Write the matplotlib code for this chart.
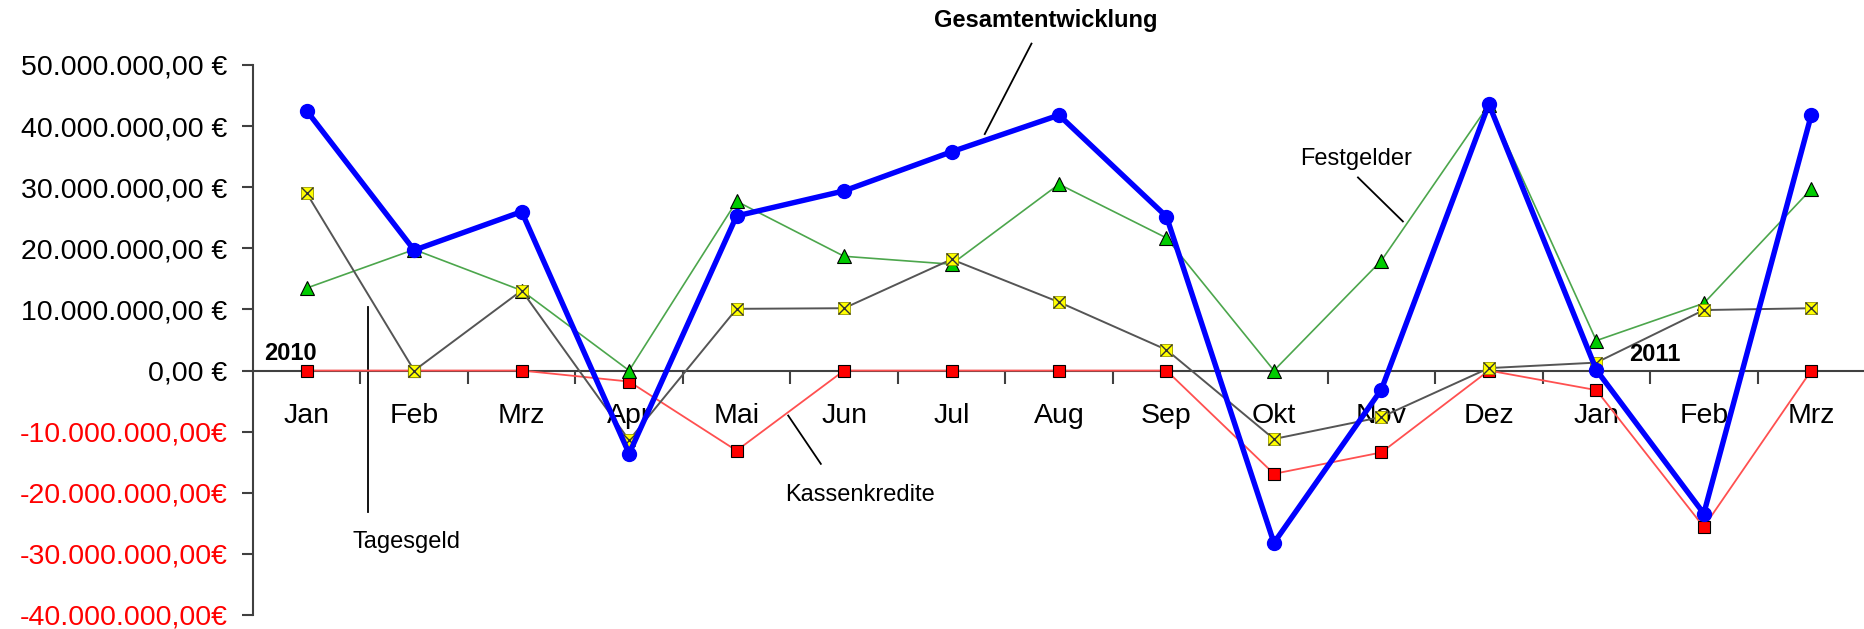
import matplotlib
matplotlib.use("Agg")
import matplotlib.pyplot as plt
import numpy as np
from matplotlib.ticker import FixedLocator, FuncFormatter

plt.rcParams["font.family"] = ["Liberation Sans", "DejaVu Sans"]

# --- data (values in euro) ---
months = ["Jan", "Feb", "Mrz", "Apr", "Mai", "Jun", "Jul", "Aug", "Sep",
          "Okt", "Nov", "Dez", "Jan", "Feb", "Mrz"]
gesamt = [42.5, 19.7, 26.0, -13.6, 25.3, 29.4, 35.8, 41.8, 25.2,
          -28.2, -3.1, 43.6, 0.1, -23.4, 41.8]
festgelder = [13.5, 19.8, 13.1, 0.0, 27.7, 18.7, 17.4, 30.5, 21.7,
              0.0, 18.0, 43.5, 4.9, 11.0, 29.7]
tagesgeld = [29.0, 0.0, 13.1, -11.4, 10.1, 10.2, 18.2, 11.2, 3.4,
             -11.2, -7.6, 0.4, 1.3, 9.9, 10.2]
kassenkredite = [0.0, 0.0, 0.0, -1.8, -13.1, 0.0, 0.0, 0.0, 0.0,
                 -16.9, -13.4, 0.0, -3.2, -25.6, 0.0]

MIO = 1e6
x = np.arange(len(months))

fig = plt.figure(figsize=(18.65, 6.29), dpi=100)
ax = fig.add_axes([253 / 1865, 14 / 629, 1612 / 1865, 550 / 629])

ax.plot(x, np.array(kassenkredite) * MIO, color="#FF5050", lw=1.3,
        marker="s", ms=8.5, mfc="#FF0000", mec="black", mew=0.8, zorder=3)
ax.plot(x, np.array(festgelder) * MIO, color="#4CA64C", lw=1.2,
        marker="^", ms=10, mfc="#00CC00", mec="black", mew=0.8, zorder=4)
ax.plot(x, np.array(tagesgeld) * MIO, color="#555555", lw=1.4,
        marker="s", ms=9, mfc="#FFFF00", mec="#999900", mew=0.6, zorder=5)
ax.plot(x, np.array(tagesgeld) * MIO, ls="none", marker="x", ms=8,
        mec="#333333", mew=1.0, zorder=5)
ax.plot(x, np.array(gesamt) * MIO, color="#0000FF", lw=3.9,
        marker="o", ms=10, mfc="#0000FF", mec="#0000FF", zorder=6)

# --- axes ---
ax.set_xlim(-0.5, len(months) - 0.5)
ax.set_ylim(-40 * MIO, 50 * MIO)
ax.spines["top"].set_visible(False)
ax.spines["right"].set_visible(False)
ax.spines["bottom"].set_position(("data", 0))
for s in ("left", "bottom"):
    ax.spines[s].set_color("#404040")
    ax.spines[s].set_linewidth(1.5)

ax.set_yticks(np.arange(-40, 51, 10) * MIO)


def euro(v, pos):
    s = f"{abs(v):,.2f}".replace(",", "X").replace(".", ",").replace("X", ".")
    return f"{s} €" if v >= 0 else f"-{s}€"


ax.yaxis.set_major_formatter(FuncFormatter(euro))
ax.tick_params(axis="y", direction="out", length=8, width=1.5,
               color="#404040", labelsize=20.5, pad=10.5)
for lab, v in zip(ax.get_yticklabels(), ax.get_yticks()):
    lab.set_color("#FF0000" if v < 0 else "black")

ax.xaxis.set_major_locator(FixedLocator(np.arange(0.5, len(months) - 1, 1.0)))
ax.xaxis.set_major_formatter(FuncFormatter(lambda v, p: ""))
ax.xaxis.set_minor_locator(FixedLocator(x))
ax.set_xticklabels(months, minor=True)
ax.tick_params(axis="x", which="major", direction="out", length=9,
               width=1.5, color="#404040")
ax.tick_params(axis="x", which="minor", length=0, labelsize=20.5, pad=23.5)

# --- annotations ---
ax.text(6.877, 57.3 * MIO, "Gesamtentwicklung", fontsize=17,
        fontweight="bold", ha="center", va="center", clip_on=False)
ax.plot([6.744, 6.309], [53.5 * MIO, 38.7 * MIO], color="black", lw=1.3,
        clip_on=False)

ax.text(9.76, 34.7 * MIO, "Festgelder", fontsize=17, ha="center",
        va="center")
ax.plot([9.782, 10.2], [31.6 * MIO, 24.4 * MIO], color="black", lw=1.3)

ax.text(5.147, -20.3 * MIO, "Kassenkredite", fontsize=17, ha="center",
        va="center")
ax.plot([4.48, 4.784], [-7.36 * MIO, -15.27 * MIO], color="black", lw=1.3)

ax.text(0.933, -28.1 * MIO, "Tagesgeld", fontsize=17, ha="center",
        va="center")
ax.plot([0.567, 0.567], [10.47 * MIO, -23.2 * MIO], color="black", lw=1.3)

ax.text(-0.147, 2.8 * MIO, "2010", fontsize=17, fontweight="bold",
        ha="center", va="center", zorder=7)
ax.text(12.542, 2.6 * MIO, "2011", fontsize=17, fontweight="bold",
        ha="center", va="center", zorder=7)

fig.savefig("out.png", dpi=100)
